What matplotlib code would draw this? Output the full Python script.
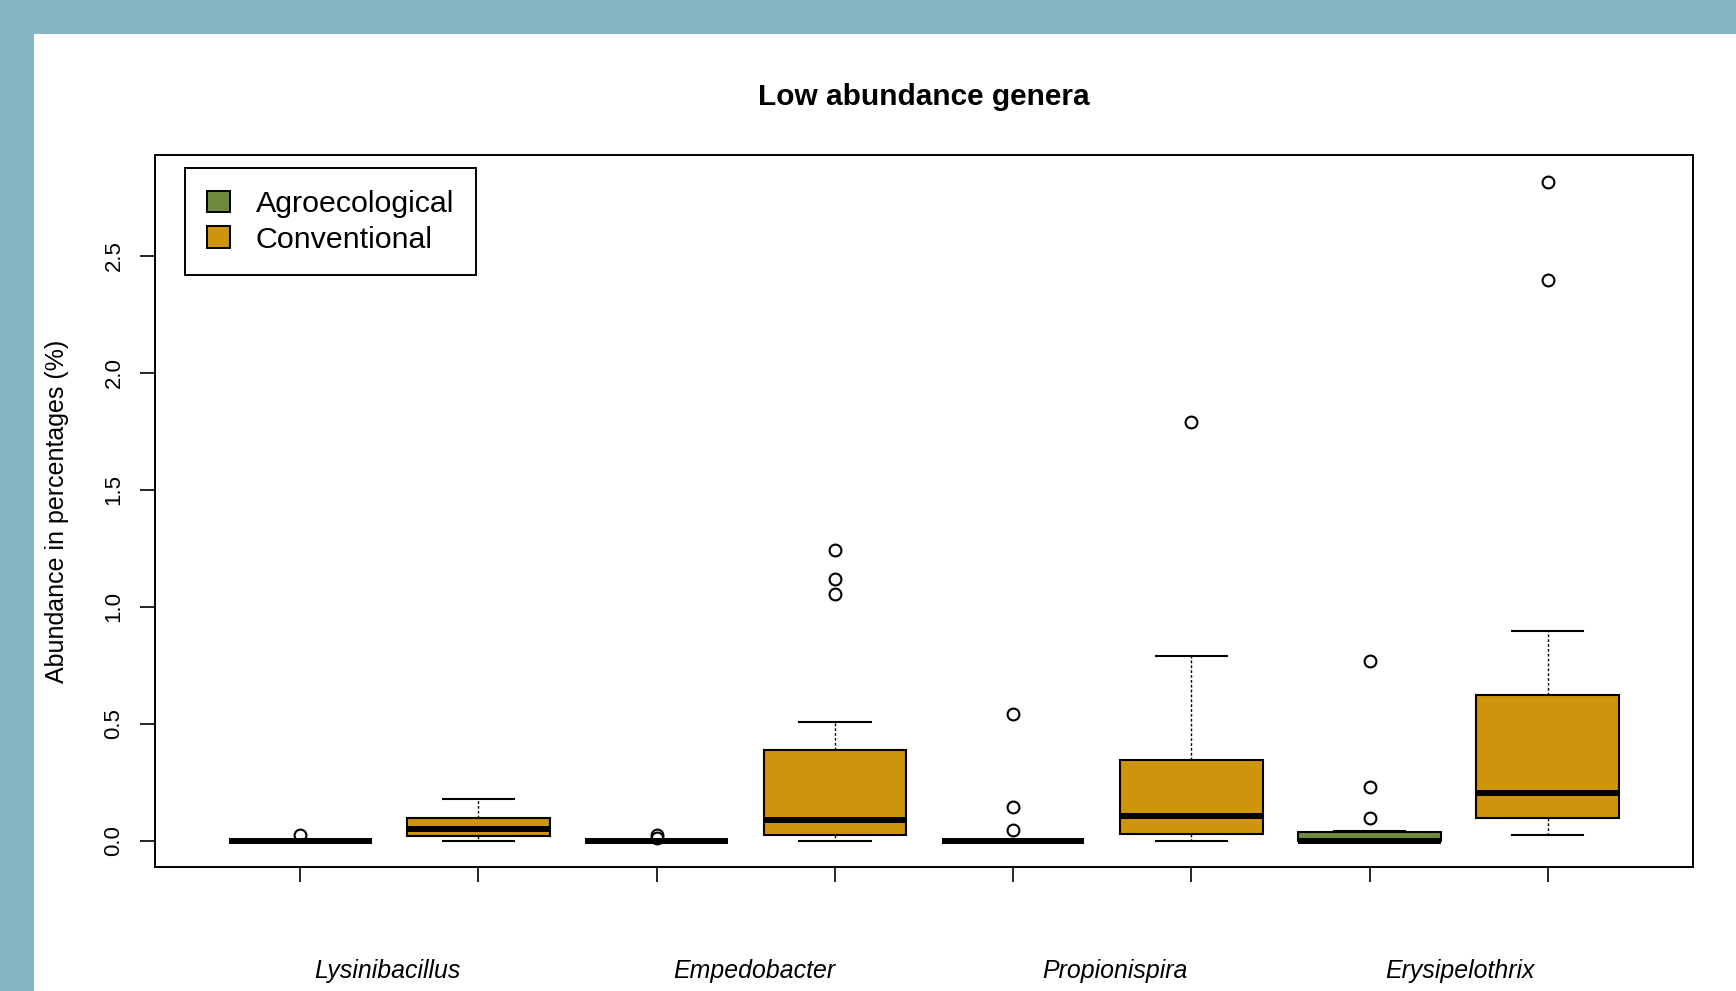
import matplotlib.pyplot as plt
from matplotlib.patches import Patch, Rectangle

plt.rcParams["font.family"] = ["Liberation Sans", "DejaVu Sans"]

genera = ["Lysinibacillus", "Empedobacter", "Propionispira", "Erysipelothrix"]
groups = ["Agroecological", "Conventional"]
group_colors = ["#6E8B3D", "#CD950C"]

# one box per genus x group, ordered agro, conv, agro, conv, ...
whislo = [0.0, 0.0, 0.0, 0.0, 0.0, 0.0, 0.0, 0.022]
q1 = [0.0, 0.018, 0.0, 0.023, 0.0, 0.027, 0.0, 0.097]
med = [0.0, 0.050, 0.0, 0.088, 0.0, 0.105, 0.0, 0.205]
q3 = [0.0, 0.097, 0.0, 0.388, 0.0, 0.345, 0.035, 0.622]
whishi = [0.0, 0.176, 0.0, 0.506, 0.0, 0.789, 0.041, 0.897]
fliers = [
    [0.025],
    [],
    [0.022, 0.010],
    [1.243, 1.120, 1.054],
    [0.543, 0.143, 0.045],
    [1.790],
    [0.766, 0.231, 0.097],
    [2.816, 2.394],
]

W, H = 1736, 991
fig = plt.figure(figsize=(W / 100, H / 100), dpi=100, facecolor="#87b4c3")
fig.patches.append(Rectangle((34 / W, 0), 1 - 34 / W, 1 - 34 / H,
                             transform=fig.transFigure, facecolor="white",
                             edgecolor="none", zorder=-10))

ax = fig.add_axes([155 / W, 1 - 867 / H, (1693 - 155) / W, (867 - 155) / H])
ax.set_facecolor("white")

stats = []
for i in range(len(med)):
    stats.append(dict(whislo=whislo[i], q1=q1[i], med=med[i], q3=q3[i],
                      whishi=whishi[i], fliers=fliers[i]))
positions = list(range(1, len(stats) + 1))

bp = ax.bxp(stats, positions=positions, widths=0.8, capwidths=0.4,
            patch_artist=True, manage_ticks=False,
            boxprops=dict(edgecolor="black", linewidth=1.5),
            medianprops=dict(color="black", linewidth=4.3),
            whiskerprops=dict(color="black", linewidth=1.0, linestyle=(0, (2, 1.5))),
            capprops=dict(color="black", linewidth=1.5),
            flierprops=dict(marker="o", markerfacecolor="none", markeredgecolor="black",
                            markersize=8.5, markeredgewidth=1.5))
for i, box in enumerate(bp["boxes"]):
    box.set_facecolor(group_colors[i % 2])

ax.set_xlim(0.185, 8.815)
ax.set_ylim(-0.113, 2.93)

ax.set_xticks(positions)
ax.set_xticklabels([])
ax.tick_params(axis="x", which="major", length=11, width=1.2, color="black")
# genus names sit under each pair of boxes
ax.set_xticks([1.49, 3.55, 5.57, 7.51], minor=True)
ax.set_xticklabels(genera, minor=True, fontsize=17.9, style="italic")
ax.tick_params(axis="x", which="minor", length=0, pad=66)

yt = [0.0, 0.5, 1.0, 1.5, 2.0, 2.5]
ax.set_yticks(yt)
ax.set_yticklabels([f"{v:.1f}" for v in yt], rotation=90, va="center", fontsize=16)
ax.tick_params(axis="y", length=11, width=1.2, pad=11, color="black")

ax.set_ylabel("Abundance in percentages (%)", fontsize=18)
ax.yaxis.set_label_coords(-0.056, 0.5)

for s in ax.spines.values():
    s.set_linewidth(1.4)
    s.set_color("black")

fig.text(924 / W, 1 - 97 / H, "Low abundance genera", ha="center", va="center",
         fontsize=21.5, fontweight="bold")

handles = [Patch(facecolor=c, edgecolor="black", linewidth=1.4) for c in group_colors]
leg = ax.legend(handles, groups, loc="upper left", bbox_to_anchor=(0.0195, 0.9817),
                borderaxespad=0, fontsize=21.9, handlelength=0.75, handleheight=0.7,
                handletextpad=0.85, borderpad=0.72, labelspacing=0.25,
                fancybox=False, framealpha=1)
leg.get_frame().set_edgecolor("black")
leg.get_frame().set_linewidth(1.4)

fig.savefig("out.png", dpi=100, facecolor=fig.get_facecolor())
